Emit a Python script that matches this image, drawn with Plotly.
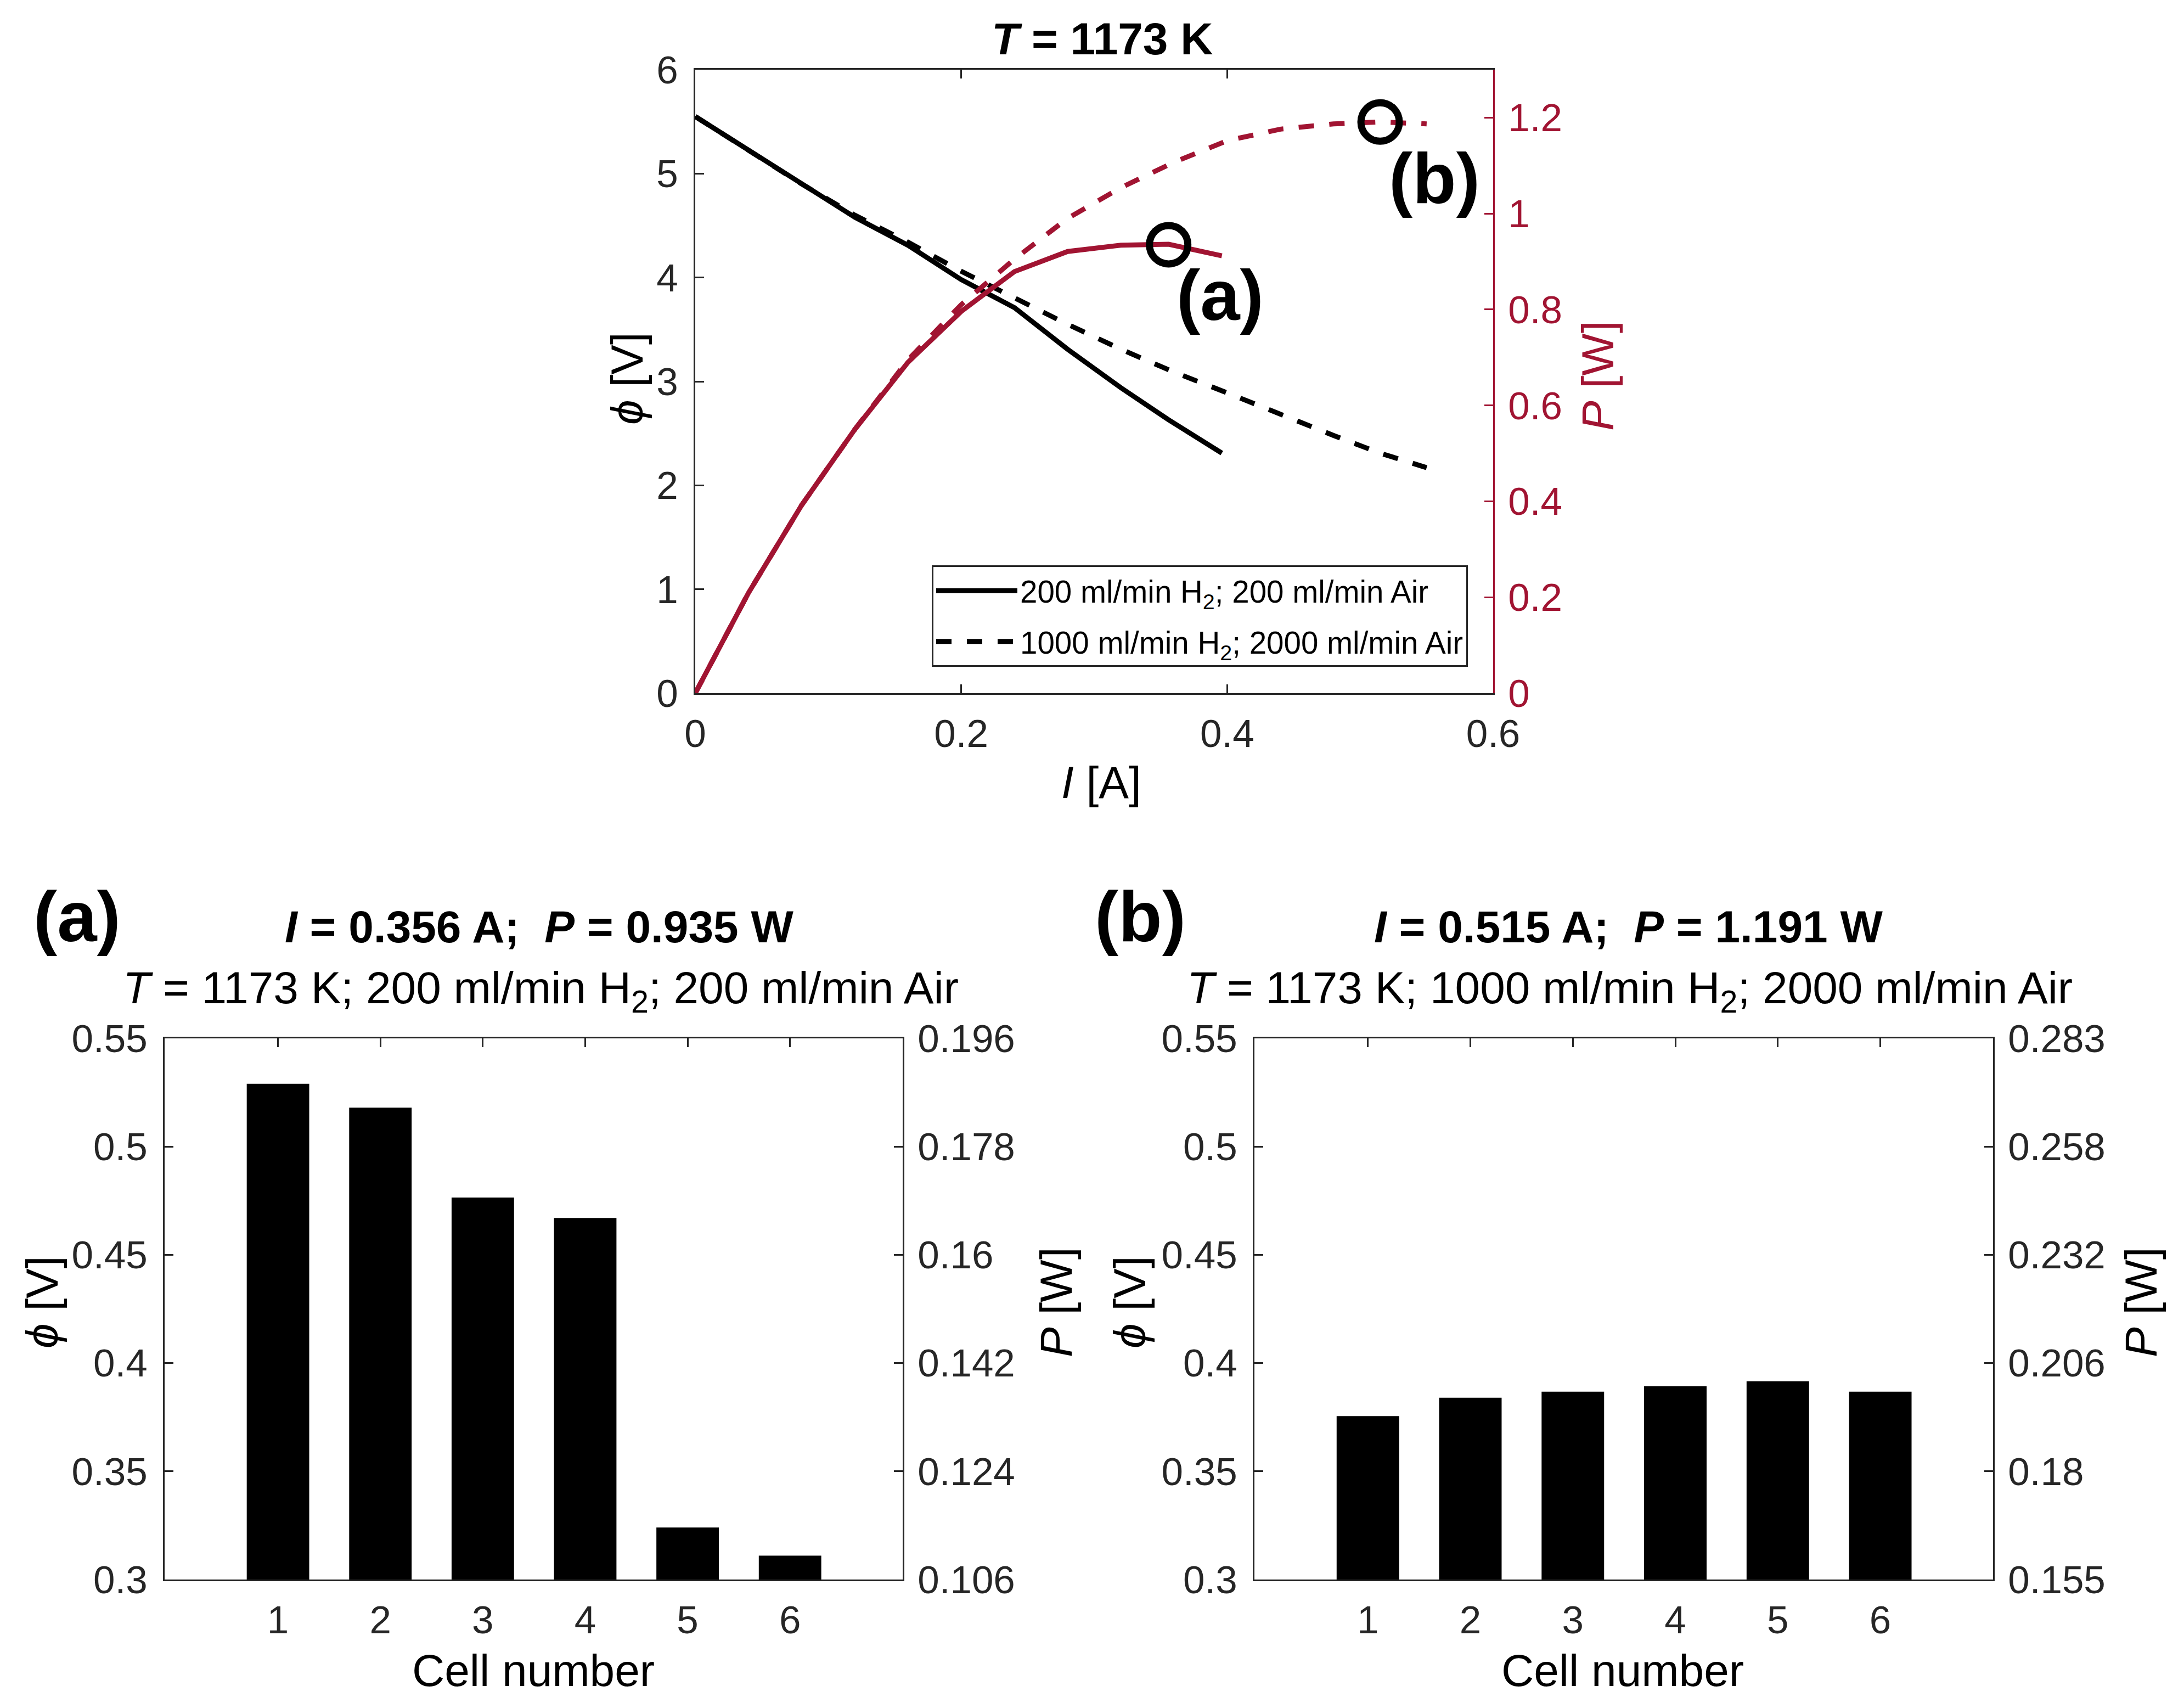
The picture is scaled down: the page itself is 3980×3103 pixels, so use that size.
import plotly.graph_objects as go

# polarisation curves
current_low = [0, 0.04, 0.08, 0.12, 0.16, 0.2, 0.24, 0.28, 0.32, 0.356, 0.396]
phi_low = [5.55, 5.23, 4.90, 4.58, 4.31, 3.98, 3.71, 3.31, 2.94, 2.63, 2.31]
power_low = [0, 0.209, 0.392, 0.55, 0.69, 0.796, 0.879, 0.921, 0.934, 0.936, 0.912]

current_high = [0, 0.04, 0.08, 0.12, 0.16, 0.2, 0.24, 0.28, 0.32, 0.36, 0.4, 0.44, 0.48, 0.515, 0.55]
phi_high = [5.55, 5.23, 4.90, 4.60, 4.34, 4.06, 3.80, 3.55, 3.31, 3.09, 2.89, 2.68, 2.48, 2.31, 2.17]
power_high = [0, 0.209, 0.392, 0.55, 0.695, 0.81, 0.905, 0.99, 1.054, 1.107, 1.152, 1.176, 1.187, 1.191, 1.187]

peak_current = [0.356, 0.515]
peak_power = [0.935, 1.191]

# per-cell values at the two marked points
cells = [1, 2, 3, 4, 5, 6]
cell_phi_a = [0.529, 0.518, 0.4765, 0.467, 0.324, 0.311]
cell_power_a = [0.1883, 0.1844, 0.1696, 0.1663, 0.1154, 0.1107]
cell_phi_b = [0.3755, 0.384, 0.3868, 0.3893, 0.3916, 0.3868]
cell_power_b = [0.1934, 0.1978, 0.1992, 0.2005, 0.2017, 0.1992]

# tick labels
top_x_ticks = [0, 0.2, 0.4, 0.6]
top_phi_ticks = [0, 1, 2, 3, 4, 5, 6]
top_power_ticks = [0, 0.2, 0.4, 0.6, 0.8, 1, 1.2]
cell_phi_ticks = [0.3, 0.35, 0.4, 0.45, 0.5, 0.55]
cell_power_ticks_a = [0.106, 0.124, 0.142, 0.16, 0.178, 0.196]
cell_power_ticks_b = [0.155, 0.1806, 0.2062, 0.2318, 0.2574, 0.283]
cell_power_text_b = ["0.155", "0.18", "0.206", "0.232", "0.258", "0.283"]

W, H = 3980, 3103
FONT = "Liberation Sans"
INK = "#262626"
RED = "#a11432"
TICK_SIZE = 71
TITLE_SIZE = 82
LINE_W = 9
DASH = "28px,28px"


def dom_x(left, right):
    return [left / W, right / W]


def dom_y(top, bottom):
    return [1 - bottom / H, 1 - top / H]


def x_axis(domain, anchor, vals, rng):
    return dict(
        domain=domain, anchor=anchor, range=rng, tickvals=vals, ticks="inside", ticklen=16, tickwidth=3,
        tickcolor=INK, showline=True, linecolor=INK, linewidth=3, mirror="ticks", showgrid=False, zeroline=False,
        tickfont=dict(family=FONT, size=TICK_SIZE, color=INK), layer="below traces", ticklabelstandoff=10,
        automargin=False,
    )


def y_axis(domain, anchor, vals, rng, color=INK, side="left", over=None, text=None):
    ax = dict(
        domain=domain, anchor=anchor, range=rng, tickvals=vals, ticks="inside", ticklen=16, tickwidth=3,
        tickcolor=color, showline=True, linecolor=color, linewidth=3, showgrid=False, zeroline=False, side=side,
        tickfont=dict(family=FONT, size=TICK_SIZE, color=color), layer="below traces",
        ticklabelstandoff=14 if side == "left" else 10, automargin=False,
    )
    if over:
        ax["overlaying"] = over
    if text:
        ax["ticktext"] = text
    return ax


def label(text, px, py, size, color="black", angle=0):
    return dict(
        text=text, x=px / W, y=1 - py / H, xref="paper", yref="paper", showarrow=False, xanchor="center",
        yanchor="middle", textangle=angle, font=dict(family=FONT, size=size, color=color),
    )


fig = go.Figure()

# top panel
fig.add_trace(go.Scatter(x=current_low, y=phi_low, mode="lines", xaxis="x", yaxis="y", cliponaxis=False,
                         legendgroup="low", name="200 ml/min H<sub>2</sub>; 200 ml/min Air",
                         line=dict(color="black", width=LINE_W)))
fig.add_trace(go.Scatter(x=current_high, y=phi_high, mode="lines", xaxis="x", yaxis="y", cliponaxis=False,
                         legendgroup="high", name="1000 ml/min H<sub>2</sub>; 2000 ml/min Air",
                         line=dict(color="black", width=LINE_W, dash=DASH)))
fig.add_trace(go.Scatter(x=current_low, y=power_low, mode="lines", xaxis="x", yaxis="y2", cliponaxis=False,
                         showlegend=False, line=dict(color=RED, width=LINE_W)))
fig.add_trace(go.Scatter(x=current_high, y=power_high, mode="lines", xaxis="x", yaxis="y2", cliponaxis=False,
                         showlegend=False, line=dict(color=RED, width=LINE_W, dash=DASH)))
fig.add_trace(go.Scatter(x=peak_current, y=peak_power, mode="markers", xaxis="x", yaxis="y2", showlegend=False,
                         marker=dict(symbol="circle-open", size=70, color="black", line=dict(width=13, color="black"))))

# cell panels: bars on the voltage axis, the power axis just needs a trace of its own to show up
for xa, ya, ya2, phi, power in [("x2", "y3", "y4", cell_phi_a, cell_power_a), ("x3", "y5", "y6", cell_phi_b, cell_power_b)]:
    fig.add_trace(go.Bar(x=cells, y=phi, xaxis=xa, yaxis=ya, width=0.61, showlegend=False,
                         marker=dict(color="black", line=dict(width=0))))
    fig.add_trace(go.Scatter(x=cells, y=power, xaxis=xa, yaxis=ya2, mode="markers", showlegend=False,
                             marker=dict(size=1, color="black", opacity=0)))

top_x, top_y = dom_x(1267, 2721), dom_y(127, 1263)
a_x, cell_y = dom_x(300, 1645), dom_y(1892, 2878)
b_x = dom_x(2286, 3632)
CELL_RANGE = [-0.107, 7.1]
PHI_RANGE = [0.3, 0.55]
PHI_T = "<i>ϕ</i> [V]"
P_T = "<i>P</i> [W]"

fig.update_layout(
    width=W, height=H, autosize=False, margin=dict(l=0, r=0, t=0, b=0), paper_bgcolor="white", plot_bgcolor="white",
    xaxis=x_axis(top_x, "y", top_x_ticks, [0, 0.6]),
    yaxis=y_axis(top_y, "x", top_phi_ticks, [0, 6]),
    yaxis2=y_axis(top_y, "x", top_power_ticks, [0, 1.3], color=RED, side="right", over="y"),
    xaxis2=x_axis(a_x, "y3", cells, CELL_RANGE),
    yaxis3=y_axis(cell_y, "x2", cell_phi_ticks, PHI_RANGE),
    yaxis4=y_axis(cell_y, "x2", cell_power_ticks_a, [0.106, 0.196], side="right", over="y3"),
    xaxis3=x_axis(b_x, "y5", cells, CELL_RANGE),
    yaxis5=y_axis(cell_y, "x3", cell_phi_ticks, PHI_RANGE),
    yaxis6=y_axis(cell_y, "x3", cell_power_ticks_b, [0.155, 0.283], side="right", over="y5", text=cell_power_text_b),
    legend=dict(
        x=1698 / W, y=1 - 1030 / H, xanchor="left", yanchor="top", bgcolor="white", bordercolor=INK, borderwidth=3,
        itemwidth=148, tracegroupgap=16, font=dict(family=FONT, size=56.5, color="black"),
    ),
    annotations=[
        label("<b><i>T</i> = 1173 K</b>", 2008, 71, TITLE_SIZE),
        label("<b>(a)</b>", 2223, 538, 130),
        label("<b>(b)</b>", 2614, 325, 130),
        label("<b>(a)</b>", 140, 1670, 130),
        label("<b>(b)</b>", 2078, 1670, 130),
        label("<b><i>I</i> = 0.356 A;  <i>P</i> = 0.935 W</b>", 982, 1688, TITLE_SIZE),
        label("<i>T</i> = 1173 K; 200 ml/min H<sub>2</sub>; 200 ml/min Air", 985, 1805, TITLE_SIZE),
        label("<b><i>I</i> = 0.515 A;  <i>P</i> = 1.191 W</b>", 2967, 1688, TITLE_SIZE),
        label("<i>T</i> = 1173 K; 1000 ml/min H<sub>2</sub>; 2000 ml/min Air", 2970, 1805, TITLE_SIZE),
        # axis titles
        label("<i>I</i> [A]", 2007, 1426, TITLE_SIZE),
        label(PHI_T, 1142, 690, TITLE_SIZE, angle=-90),
        label(P_T, 2911, 685, TITLE_SIZE, color=RED, angle=-90),
        label("Cell number", 972, 3043, TITLE_SIZE),
        label(PHI_T, 76, 2373, TITLE_SIZE, angle=-90),
        label(P_T, 1924, 2373, TITLE_SIZE, angle=-90),
        label("Cell number", 2957, 3043, TITLE_SIZE),
        label(PHI_T, 2058, 2373, TITLE_SIZE, angle=-90),
        label(P_T, 3901, 2373, TITLE_SIZE, angle=-90),
    ],
)

fig.write_html("out.html", config=dict(displayModeBar=False), post_script="document.body.style.margin='0';")
